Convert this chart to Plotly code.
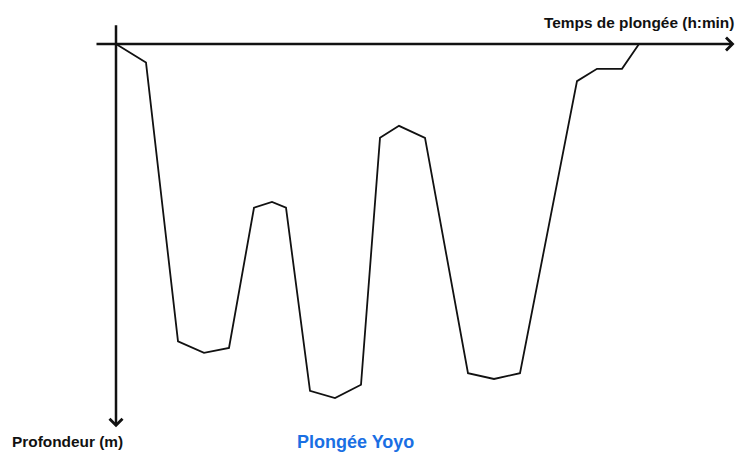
import plotly.graph_objects as go

# Dive profile: time (min) and depth (m)
time_min = [0, 3, 6.2, 8.8, 11.3, 13.8, 15.6, 17, 19.4, 21.9, 24.5,
            26.4, 28.3, 30.9, 35.2, 37.8, 40.4, 46.1, 48.1, 50.6, 52.3]
depth_m = [0, 2.1, 33.6, 34.9, 34.35, 18.5, 17.85, 18.5, 39.2, 40, 38.5,
           10.6, 9.25, 10.6, 37.2, 37.85, 37.2, 4.2, 2.8, 2.8, 0]

x_label = "Temps de plongée (h:min)"
y_label = "Profondeur (m)"
title = "Plongée Yoyo"

fig = go.Figure()
fig.add_trace(go.Scatter(x=time_min, y=depth_m, mode="lines",
                         line=dict(color="#111111", width=1.8),
                         hoverinfo="skip", showlegend=False))

# axes with arrows
fig.add_annotation(x=61.85, y=0, ax=-2.1, ay=0, xref="x", yref="y",
                   axref="x", ayref="y", text="", showarrow=True,
                   arrowhead=4, arrowsize=1, arrowwidth=2.5, arrowcolor="#111111")
fig.add_annotation(x=0, y=43.3, ax=0, ay=-2.3, xref="x", yref="y",
                   axref="x", ayref="y", text="", showarrow=True,
                   arrowhead=4, arrowsize=1, arrowwidth=2.5, arrowcolor="#111111")

font_family = "Liberation Sans, Arial, sans-serif"
fig.add_annotation(x=736/740, y=1-22/453, xref="paper", yref="paper",
                   xanchor="right", yanchor="middle", showarrow=False,
                   text="<b>" + x_label + "</b>",
                   font=dict(family=font_family, size=15.4, color="#111111"))
fig.add_annotation(x=10/740, y=1-441/453, xref="paper", yref="paper",
                   xanchor="left", yanchor="middle", showarrow=False,
                   text="<b>" + y_label + "</b>",
                   font=dict(family=font_family, size=15.4, color="#111111"))
fig.add_annotation(x=355/740, y=1-442/453, xref="paper", yref="paper",
                   xanchor="center", yanchor="middle", showarrow=False,
                   text="<b>" + title + "</b>",
                   font=dict(family=font_family, size=18, color="#1a6fe3"))

fig.update_layout(
    width=740, height=453,
    margin=dict(l=0, r=0, t=0, b=0),
    paper_bgcolor="white", plot_bgcolor="white",
    xaxis=dict(range=[-11.6, 62.4], visible=False, fixedrange=True),
    yaxis=dict(range=[(453-44)/8.85, -44/8.85], visible=False, fixedrange=True),
)

fig.write_html("out.html", config={"displayModeBar": False},
               post_script="document.body.style.margin='0';document.body.style.overflow='hidden';")
